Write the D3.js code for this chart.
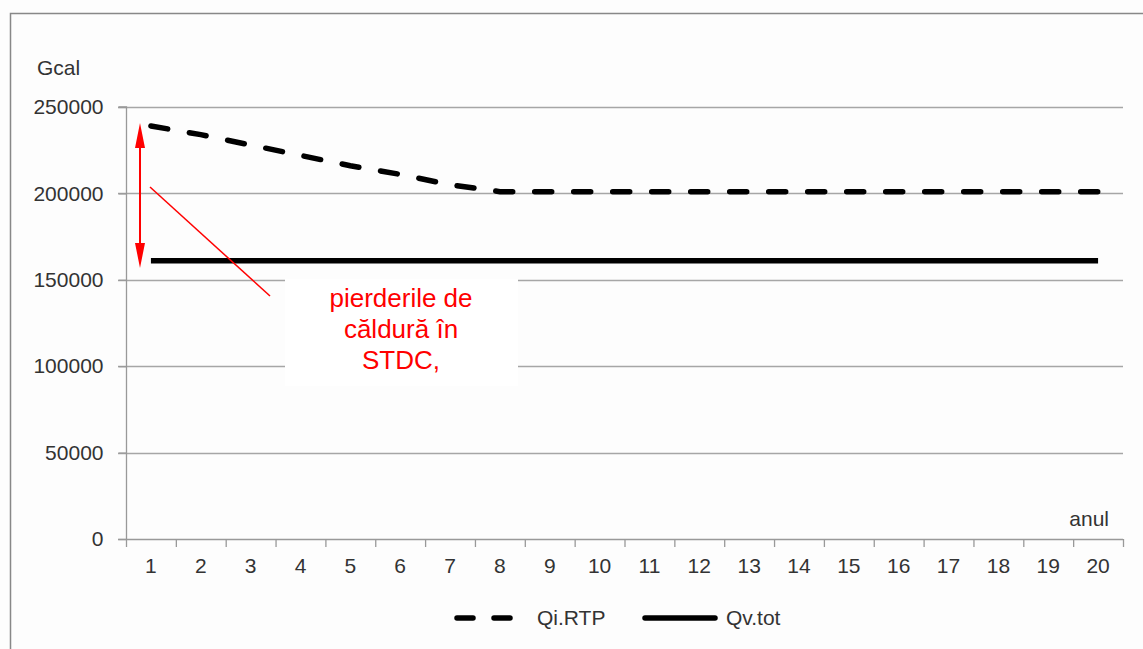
<!DOCTYPE html>
<html><head><meta charset="utf-8">
<script src="https://cdn.jsdelivr.net/npm/d3@7"></script>
<style>body{margin:0;background:#fdfdfd;}svg{display:block;font-family:"Liberation Sans",Arial,sans-serif;}</style>
</head><body><svg id="c" width="1143" height="649"></svg>
<script>
const years = d3.range(1, 21).map(String);
const qiRTP = [239000, 234000, 228000, 222000, 216000, 211000, 205000, 201000, 201000, 201000, 201000, 201000, 201000, 201000, 201000, 201000, 201000, 201000, 201000, 201000];
const qvTot = [161000, 161000, 161000, 161000, 161000, 161000, 161000, 161000, 161000, 161000, 161000, 161000, 161000, 161000, 161000, 161000, 161000, 161000, 161000, 161000];
const yTicks = [0, 50000, 100000, 150000, 200000, 250000];
const seriesNames = ["Qi.RTP", "Qv.tot"];

const FS = 21;
const svg = d3.select("#c");
const L = 126, R = 1123, T = 107, B = 539;
const x = d3.scaleBand().domain(years).range([L, R]);
const y = d3.scaleLinear().domain([0, 250000]).range([B, T]);

// outer frame
svg.append("rect").attr("x", 0).attr("y", 0).attr("width", 1143).attr("height", 649).attr("fill", "#fdfdfd");
svg.append("path").attr("d", "M10.5,649 V13.5 H1143").attr("fill", "none").attr("stroke", "#888").attr("stroke-width", 1.5);

// grid
svg.append("g").selectAll("line").data(yTicks.filter(d => d > 0)).join("line")
  .attr("x1", L - 8).attr("x2", R).attr("y1", d => Math.round(y(d)) + 0.5).attr("y2", d => Math.round(y(d)) + 0.5)
  .attr("stroke", "#a6a6a6").attr("stroke-width", 1.3);

// y axis
const ya = svg.append("g").attr("transform", `translate(${L + 0.5},0)`)
  .call(d3.axisLeft(y).tickValues(yTicks).tickSize(8).tickPadding(15).tickFormat(d3.format("d")));
ya.select(".domain").attr("stroke", "#999").attr("stroke-width", 1.3).attr("d", `M-8,${y(250000)}H0V${B}`);
ya.selectAll(".tick line").attr("stroke", "#999").attr("stroke-width", 1.3);
ya.selectAll("text").attr("font-size", FS).attr("fill", "#333").attr("font-family", "Liberation Sans, Arial");

// x axis
const xa = svg.append("g").attr("transform", `translate(0,${B + 0.5})`)
  .call(d3.axisBottom(x).tickSize(0).tickPadding(19));
xa.select(".domain").attr("stroke", "#999").attr("stroke-width", 1.3).attr("d", `M${L - 8},0H${R}`);
xa.selectAll("text").attr("font-size", FS).attr("fill", "#333").attr("font-family", "Liberation Sans, Arial");
svg.append("g").selectAll("line").data(d3.range(0, 21)).join("line")
  .attr("x1", i => L + i * x.bandwidth() + 0.5).attr("x2", i => L + i * x.bandwidth() + 0.5)
  .attr("y1", B).attr("y2", B + 8).attr("stroke", "#999").attr("stroke-width", 1.3);

// axis titles
svg.append("text").attr("x", 37).attr("y", 75).attr("font-size", FS).attr("fill", "#333").text("Gcal");
svg.append("text").attr("x", 1109).attr("y", 526).attr("text-anchor", "end").attr("font-size", FS).attr("fill", "#333").text("anul");

// lines
const line = d3.line().x((d, i) => x(years[i]) + x.bandwidth() / 2).y(d => y(d));
svg.append("path").datum(qvTot).attr("d", line).attr("fill", "none").attr("stroke", "#000").attr("stroke-width", 5.5);
svg.append("path").datum(qiRTP).attr("d", line).attr("fill", "none").attr("stroke", "#000").attr("stroke-width", 5.5)
  .attr("stroke-dasharray", "17,22").attr("stroke-linecap", "round");

// annotation box
svg.append("rect").attr("x", 285).attr("y", 279).attr("width", 233).attr("height", 107).attr("fill", "#fff");
const ann = ["pierderile de", "căldură în", "STDC,"];
svg.append("g").selectAll("text").data(ann).join("text")
  .attr("x", 401).attr("y", (d, i) => 307 + i * 31).attr("text-anchor", "middle")
  .attr("font-size", 26).attr("fill", "#ff0000").text(d => d);

// red pointer line
svg.append("line").attr("x1", 150).attr("y1", 187).attr("x2", 270).attr("y2", 296).attr("stroke", "#ff0000").attr("stroke-width", 1.5);
// double arrow
svg.append("line").attr("x1", 140).attr("x2", 140).attr("y1", 140).attr("y2", 250).attr("stroke", "#ff0000").attr("stroke-width", 2);
svg.append("path").attr("d", "M140,123 L135,148 L145,148 Z M140,268 L135,243 L145,243 Z").attr("fill", "#ff0000");

// legend
const lg = svg.append("g");
lg.append("line").attr("x1", 457).attr("x2", 513).attr("y1", 618).attr("y2", 618).attr("stroke", "#000").attr("stroke-width", 5.5)
  .attr("stroke-dasharray", "16,21").attr("stroke-linecap", "round");
lg.append("text").attr("x", 537).attr("y", 625).attr("font-size", FS).attr("fill", "#333").text(seriesNames[0]);
lg.append("line").attr("x1", 645).attr("x2", 715).attr("y1", 618).attr("y2", 618).attr("stroke", "#000").attr("stroke-width", 5.5).attr("stroke-linecap", "round");
lg.append("text").attr("x", 726).attr("y", 625).attr("font-size", FS).attr("fill", "#333").text(seriesNames[1]);
</script></body></html>
